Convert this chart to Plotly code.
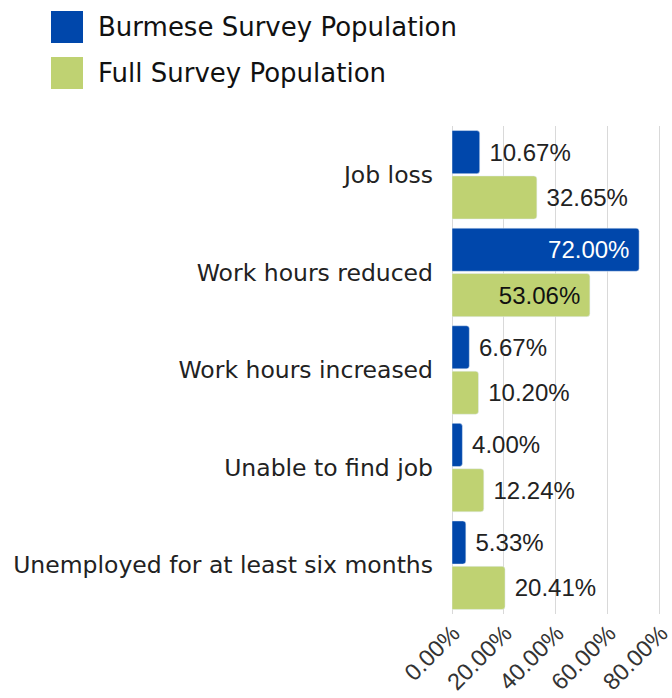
import plotly.graph_objects as go

categories = [
    "Job loss",
    "Work hours reduced",
    "Work hours increased",
    "Unable to find job",
    "Unemployed for at least six months",
]
burmese = [10.67, 72.00, 6.67, 4.00, 5.33]
full = [32.65, 53.06, 10.20, 12.24, 20.41]
series_names = ["Burmese Survey Population", "Full Survey Population"]
tick_vals = [0, 20, 40, 60, 80]
tick_text = ["0.00%", "20.00%", "40.00%", "60.00%", "80.00%"]

BLUE = "#0047AB"
GREEN = "#BFD272"
GRID = "#d9d9d9"
LABEL_FONT = "DejaVu Sans, Inter, sans-serif"
NUM_FONT = "Liberation Sans, Arial, sans-serif"

L, R, T, B = 452, 10, 126, 84
W, H = 672, 698
PW, PH = W - L - R, H - T - B


def text_layout(values, inside_limit, inside_color):
    pos = ["inside" if v > inside_limit else "outside" for v in values]
    col = [inside_color if v > inside_limit else "#222222" for v in values]
    txt = [f"{v:.2f}% " if v > inside_limit else f" {v:.2f}%" for v in values]
    return pos, col, txt


b_pos, b_col, b_txt = text_layout(burmese, 60, "#ffffff")
f_pos, f_col, f_txt = text_layout(full, 45, "#111111")

fig = go.Figure()
for vals, name, color, pos, col, txt in [
    (burmese, series_names[0], BLUE, b_pos, b_col, b_txt),
    (full, series_names[1], GREEN, f_pos, f_col, f_txt),
]:
    fig.add_trace(go.Bar(
        y=categories, x=vals, orientation="h", name=name,
        marker=dict(color=color, cornerradius=3),
        text=txt, textposition=pos,
        insidetextanchor="end", textangle=0,
        textfont=dict(family=NUM_FONT, size=24, color=col),
        outsidetextfont=dict(family=NUM_FONT, size=24, color="#222222"),
        insidetextfont=dict(family=NUM_FONT, size=24, color=col),
        cliponaxis=False, showlegend=False,
    ))

# Legend drawn as swatches with labels (pixel positions converted to paper units)
for i, (name, color) in enumerate(zip(series_names, [BLUE, GREEN])):
    top = 11 + i * 46
    fig.add_shape(type="rect", xref="paper", yref="paper",
                  x0=(51 - L) / PW, x1=(83 - L) / PW,
                  y0=1 + (T - top - 32) / PH, y1=1 + (T - top) / PH,
                  fillcolor=color, line=dict(width=0))
    fig.add_annotation(xref="paper", yref="paper",
                       x=(96 - L) / PW, y=1 + (T - top - 16) / PH,
                       text=name, showarrow=False, xanchor="left", yanchor="middle",
                       font=dict(family=LABEL_FONT, size=26, color="#111111"))

fig.update_layout(
    width=W, height=H,
    margin=dict(l=L, r=R, t=T, b=B),
    barmode="group", bargap=0.07, bargroupgap=0.05,
    plot_bgcolor="white", paper_bgcolor="white",
)
fig.update_xaxes(
    range=[0, 80.8], tickvals=tick_vals, ticktext=tick_text, tickangle=-45,
    showgrid=True, gridcolor=GRID, gridwidth=1,
    zeroline=True, zerolinecolor=GRID, zerolinewidth=1,
    tickfont=dict(family=NUM_FONT, size=23.5, color="#333333"),
    ticklabelshift=1, ticklabeloverflow="allow",
    showline=False, ticks="", automargin=False,
)
fig.update_yaxes(
    autorange="reversed", showgrid=False, ticks="", showline=False,
    ticklabelstandoff=18, automargin=False,
    tickfont=dict(family=LABEL_FONT, size=23.5, color="#222222"),
)

fig.write_html("out.html")
